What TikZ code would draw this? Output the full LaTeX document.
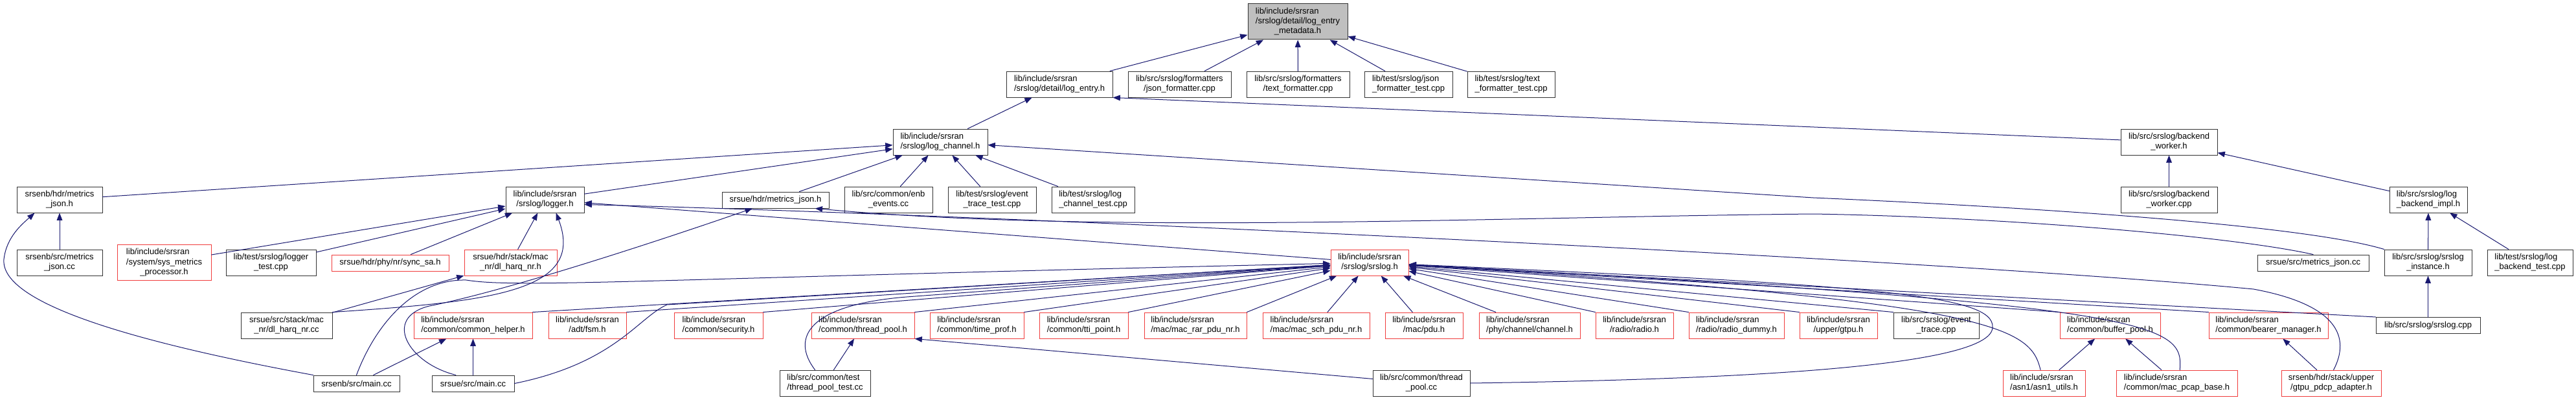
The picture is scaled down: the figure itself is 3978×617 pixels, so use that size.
\documentclass[tikz,border=0pt]{standalone}
\usepackage{fontspec}
\setmainfont{Liberation Sans}
\usetikzlibrary{arrows.meta}
\definecolor{inclblue}{RGB}{25,25,112}
\definecolor{cutred}{RGB}{240,60,60}
\definecolor{rootgray}{RGB}{191,191,191}
% Two or three lines: all left, the last one centred.
\newcommand{\twoline}[2]{\begin{tabular}{@{}l@{}}#1\\ \multicolumn{1}{@{}c@{}}{#2}\end{tabular}}
\newcommand{\threeline}[3]{\begin{tabular}{@{}l@{}}#1\\ #2\\ \multicolumn{1}{@{}c@{}}{#3}\end{tabular}}
\begin{document}
\begin{tikzpicture}[x=0.75pt, y=-0.75pt, line cap=round,
  filebox/.style={draw=black!80, line width=0.75pt, fill=white, inner sep=0pt,
    minimum height=30pt, font=\fontsize{9.75}{11.5}\selectfont},
  cutbox/.style={filebox, draw=cutred},
  w/.style={minimum width=#1*0.75pt},
  one/.style={minimum height=18.75pt},
  three/.style={minimum height=41.25pt},
  incl/.style={draw=inclblue, line width=0.75pt, -{Triangle[length=8.5pt, width=6.5pt]}}]
  \fill[white] (0,0) rectangle (3978,617);
  \useasboundingbox (0,0) rectangle (3978,617);
  % Root.
  \node[filebox, three, fill=rootgray, w=154] (root) at (2004,33.5)
    {\threeline{lib/include/srsran}{/srslog/detail/log\_entry}{\_metadata.h}};
  % Row 2.
  \node[filebox, w=164] (logentry) at (1636,130) {\twoline{lib/include/srsran}{/srslog/detail/log\_entry.h}};
  \node[filebox, w=159] (jsonfmt) at (1821.5,130) {\twoline{lib/src/srslog/formatters}{/json\_formatter.cpp}};
  \node[filebox, w=159] (textfmt) at (2004.5,130) {\twoline{lib/src/srslog/formatters}{/text\_formatter.cpp}};
  \node[filebox, w=136] (jsonfmttest) at (2175,130) {\twoline{lib/test/srslog/json}{\_formatter\_test.cpp}};
  \node[filebox, w=135] (textfmttest) at (2333.5,130) {\twoline{lib/test/srslog/text}{\_formatter\_test.cpp}};
  % Row 3.
  \node[filebox, w=146] (logchannel) at (1452,219) {\twoline{lib/include/srsran}{/srslog/log\_channel.h}};
  \node[filebox, w=149] (bworker) at (3349.5,219) {\twoline{lib/src/srslog/backend}{\_worker.h}};
  % Row 4.
  \node[filebox, w=132] (enbmetrics) at (92,308) {\twoline{srsenb/hdr/metrics}{\_json.h}};
  \node[filebox, w=121] (logger) at (841.5,308) {\twoline{lib/include/srsran}{/srslog/logger.h}};
  \node[filebox, one, w=165] (uemetrics) at (1197.5,308.5) {srsue/hdr/metrics\_json.h};
  \node[filebox, w=136] (enbevents) at (1372,308) {\twoline{lib/src/common/enb}{\_events.cc}};
  \node[filebox, w=136] (eventtest) at (1532,308) {\twoline{lib/test/srslog/event}{\_trace\_test.cpp}};
  \node[filebox, w=128] (chantest) at (1688,308) {\twoline{lib/test/srslog/log}{\_channel\_test.cpp}};
  \node[filebox, w=149] (bworkercpp) at (3349.5,308) {\twoline{lib/src/srslog/backend}{\_worker.cpp}};
  \node[filebox, w=120] (bimpl) at (3750,308) {\twoline{lib/src/srslog/log}{\_backend\_impl.h}};
  % Row 5.
  \node[filebox, w=132] (enbmetricscc) at (92,405) {\twoline{srsenb/src/metrics}{\_json.cc}};
  \node[cutbox, three, w=145] (sysmetrics) at (253.5,405)
    {\threeline{lib/include/srsran}{/system/sys\_metrics}{\_processor.h}};
  \node[filebox, w=139] (loggertest) at (418.5,405) {\twoline{lib/test/srslog/logger}{\_test.cpp}};
  \node[cutbox, one, w=181] (syncsa) at (602.5,405.5) {srsue/hdr/phy/nr/sync\_sa.h};
  \node[cutbox, w=143] (harqh) at (788.5,405) {\twoline{srsue/hdr/stack/mac}{\_nr/dl\_harq\_nr.h}};
  \node[cutbox, w=120] (srslogh) at (2115,405) {\twoline{lib/include/srsran}{/srslog/srslog.h}};
  \node[filebox, one, w=172] (uemetricscc) at (3572,405.5) {srsue/src/metrics\_json.cc};
  \node[filebox, w=135] (instance) at (3749.5,405) {\twoline{lib/src/srslog/srslog}{\_instance.h}};
  \node[filebox, w=132] (btest) at (3907,405) {\twoline{lib/test/srslog/log}{\_backend\_test.cpp}};
  % Row 6.
  \node[filebox, w=141] (harqcc) at (442.5,502) {\twoline{srsue/src/stack/mac}{\_nr/dl\_harq\_nr.cc}};
  \node[cutbox, w=183] (helper) at (730.5,502) {\twoline{lib/include/srsran}{/common/common\_helper.h}};
  \node[cutbox, w=120] (fsm) at (907,502) {\twoline{lib/include/srsran}{/adt/fsm.h}};
  \node[cutbox, w=137] (security) at (1109.5,502) {\twoline{lib/include/srsran}{/common/security.h}};
  \node[cutbox, w=159] (threadh) at (1332.5,502) {\twoline{lib/include/srsran}{/common/thread\_pool.h}};
  \node[cutbox, w=145] (timeprof) at (1508.5,502) {\twoline{lib/include/srsran}{/common/time\_prof.h}};
  \node[cutbox, w=137] (tti) at (1673.5,502) {\twoline{lib/include/srsran}{/common/tti\_point.h}};
  \node[cutbox, w=158] (rar) at (1846,502) {\twoline{lib/include/srsran}{/mac/mac\_rar\_pdu\_nr.h}};
  \node[cutbox, w=165] (sch) at (2032.5,502) {\twoline{lib/include/srsran}{/mac/mac\_sch\_pdu\_nr.h}};
  \node[cutbox, w=120] (pdu) at (2199,502) {\twoline{lib/include/srsran}{/mac/pdu.h}};
  \node[cutbox, w=156] (channel) at (2362,502) {\twoline{lib/include/srsran}{/phy/channel/channel.h}};
  \node[cutbox, w=120] (radio) at (2524,502) {\twoline{lib/include/srsran}{/radio/radio.h}};
  \node[cutbox, w=147] (dummy) at (2681.5,502) {\twoline{lib/include/srsran}{/radio/radio\_dummy.h}};
  \node[cutbox, w=120] (gtpu) at (2839,502) {\twoline{lib/include/srsran}{/upper/gtpu.h}};
  \node[filebox, w=132] (eventtrace) at (2990,502) {\twoline{lib/src/srslog/event}{\_trace.cpp}};
  \node[cutbox, w=155] (bufpool) at (3258.5,502) {\twoline{lib/include/srsran}{/common/buffer\_pool.h}};
  \node[cutbox, w=184] (bearer) at (3503,502) {\twoline{lib/include/srsran}{/common/bearer\_manager.h}};
  \node[filebox, one, w=161] (srslogcpp) at (3749.5,502) {lib/src/srslog/srslog.cpp};
  % Row 7.
  \node[filebox, one, w=133] (enbmain) at (550.5,591.5) {srsenb/src/main.cc};
  \node[filebox, one, w=127] (uemain) at (730.5,591.5) {srsue/src/main.cc};
  \node[filebox, w=140] (testcc) at (1274,591) {\twoline{lib/src/common/test}{/thread\_pool\_test.cc}};
  \node[filebox, w=150] (poolcc) at (2195,591) {\twoline{lib/src/common/thread}{\_pool.cc}};
  \node[cutbox, w=127] (asn1) at (3156.5,591) {\twoline{lib/include/srsran}{/asn1/asn1\_utils.h}};
  \node[cutbox, w=187] (pcap) at (3361.5,591) {\twoline{lib/include/srsran}{/common/mac\_pcap\_base.h}};
  \node[cutbox, w=154] (adapter) at (3600,591) {\twoline{srsenb/hdr/stack/upper}{/gtpu\_pdcp\_adapter.h}};
  % Into the root and log_entry.h.
  \draw[incl] (logentry) -- (root);
  \draw[incl] (jsonfmt) -- (root);
  \draw[incl] (textfmt) -- (root);
  \draw[incl] (jsonfmttest) -- (root);
  \draw[incl] (textfmttest) -- (root);
  \draw[incl] (logchannel) -- (logentry);
  \draw[incl] (bworker) -- (logentry.south east);
  % Into log_channel.h.
  \draw[incl] (enbmetrics) -- (logchannel);
  \draw[incl] (logger) -- (logchannel);
  \draw[incl] (uemetrics) -- (logchannel);
  \draw[incl] (enbevents) -- (logchannel);
  \draw[incl] (eventtest) -- (logchannel);
  \draw[incl] (chantest) -- (logchannel);
  \draw[incl] (instance.north west) .. controls (3550,345) and (3100,318) .. (2800,305) -- (logchannel);
  % Backend.
  \draw[incl] (bworkercpp) -- (bworker);
  \draw[incl] (bimpl) -- (bworker);
  \draw[incl] (instance) -- (bimpl);
  \draw[incl] (btest) -- (bimpl);
  \draw[incl] (srslogcpp) -- (instance);
  % srsenb metrics.
  \draw[incl] (enbmetricscc) -- (enbmetrics);
  \draw[incl] (enbmain.north west) .. controls (220,530) and (0,470) .. (6,400)
    .. controls (10,365) and (35,345) .. (enbmetrics.-152);
  % Into logger.h.
  \draw[incl] (sysmetrics) -- (logger);
  \draw[incl] (loggertest) -- (logger);
  \draw[incl] (syncsa) -- (logger);
  \draw[incl] (harqh) -- (logger);
  \draw[incl] (srslogh) -- (logger);
  \draw[incl] (harqcc.north east) .. controls (760,465) and (905,450) .. (logger.-50);
  \draw[incl] (adapter.80) .. controls (3630,520) and (3610,470) .. (3480,446)
    .. controls (3000,400) and (1500,330) .. (logger.-7);
  % srsue metrics.
  \draw[incl] (uemetricscc.north) .. controls (3450,365) and (3100,335) .. (2800,330)
    .. controls (2300,335) and (1700,362) .. (uemetrics.-12);
  \draw[incl] (uemain.154) .. controls (630,560) and (590,490) .. (663,472)
    .. controls (800,445) and (1080,350) .. (uemetrics.-160);
  % Lower rows.
  \draw[incl] (harqcc) -- (harqh);
  \draw[incl] (enbmain) -- (helper);
  \draw[incl] (uemain) -- (helper);
  \draw[incl] (testcc) -- (threadh);
  \draw[incl] (poolcc) -- (threadh.south east);
  \draw[incl] (asn1) -- (bufpool);
  \draw[incl] (pcap) -- (bufpool);
  \draw[incl] (adapter) -- (bearer);
  % Into srslog.h.
  \foreach \n in {helper, fsm, security, threadh, timeprof, tti, rar}
    \draw[incl] (\n.north east) -- (srslogh);
  \foreach \n in {sch, pdu, channel}
    \draw[incl] (\n) -- (srslogh);
  \foreach \n in {radio, dummy, gtpu, eventtrace, bufpool, bearer, srslogcpp}
    \draw[incl] (\n.north west) -- (srslogh);
  \draw[incl] (enbmain.north) .. controls (580,500) and (640,430) .. (720,432)
    .. controls (800,445) and (1000,430) .. (srslogh);
  \draw[incl] (uemain.east) .. controls (950,560) and (985,490) .. (1030,470) -- (srslogh);
  \draw[incl] (testcc.127) .. controls (1220,520) and (1250,470) .. (1400,458) -- (srslogh);
  \draw[incl] (poolcc.east) .. controls (2700,585) and (3075,565) .. (3077,505)
    .. controls (3080,455) and (2900,440) .. (srslogh);
  \draw[incl] (asn1.105) .. controls (3135,505) and (3085,465) .. (srslogh);
  \draw[incl] (pcap.77) .. controls (3372,500) and (3340,470) .. (srslogh);
\end{tikzpicture}
\end{document}
